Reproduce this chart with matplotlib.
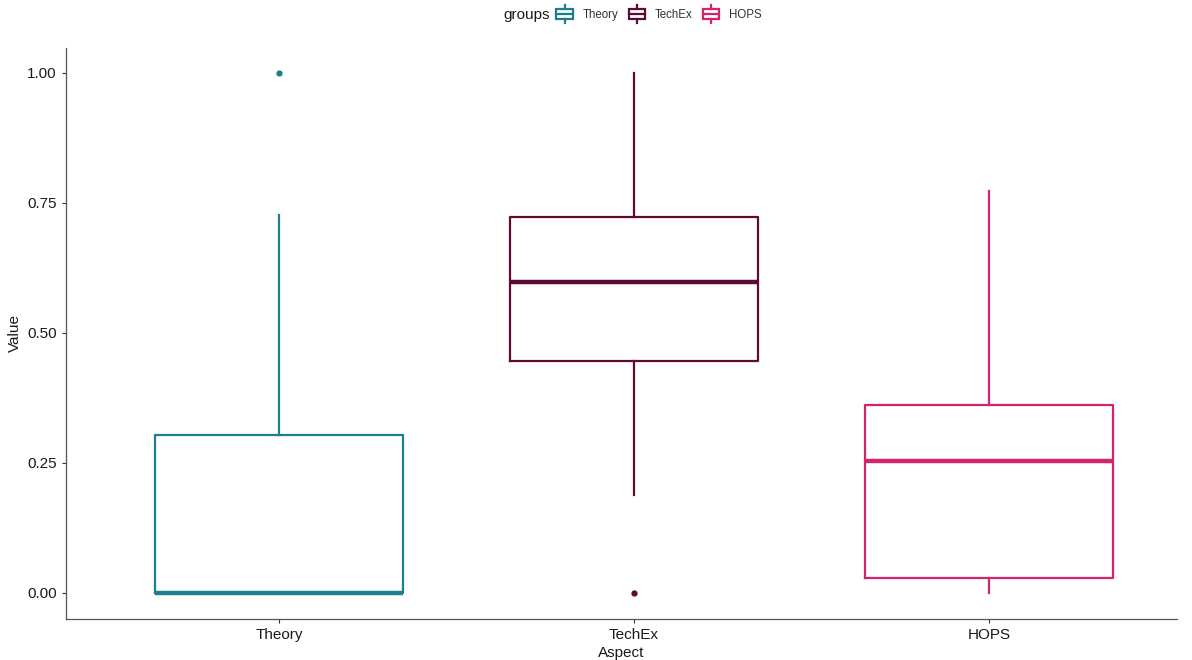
import matplotlib
matplotlib.use('Agg')
import matplotlib.pyplot as plt
from matplotlib.legend_handler import HandlerBase
from matplotlib.patches import Rectangle
from matplotlib.lines import Line2D

plt.rcParams['font.family'] = ['Liberation Sans', 'DejaVu Sans']

groups = ['Theory', 'TechEx', 'HOPS']
colors = ['#1b7f8e', '#5e0a35', '#d3246e']

# five-number summaries
whislo = [0.0, 0.188, 0.0]
q1 = [0.0, 0.446, 0.029]
med = [0.0, 0.598, 0.254]
q3 = [0.304, 0.723, 0.362]
whishi = [0.727, 1.0, 0.773]
fliers = [[1.0], [0.0], []]

stats = []
for i, g in enumerate(groups):
    stats.append({'label': g, 'whislo': whislo[i], 'q1': q1[i], 'med': med[i],
                  'q3': q3[i], 'whishi': whishi[i], 'fliers': fliers[i]})

fig = plt.figure(figsize=(11.92, 6.6), dpi=100)
ax = fig.add_axes([66/1192, 1 - 619/660, (1177 - 66)/1192, (619 - 48)/660])

for i, s in enumerate(stats):
    c = colors[i]
    ax.bxp([s], positions=[i + 1], widths=0.7, showcaps=False,
           boxprops=dict(color=c, linewidth=1.6),
           whiskerprops=dict(color=c, linewidth=1.6),
           medianprops=dict(color=c, linewidth=3.2, solid_capstyle='butt'),
           flierprops=dict(marker='o', markerfacecolor=c, markeredgecolor=c, markersize=3.5))

ax.set_xlim(0.4, 3.53)
ax.set_ylim(-0.05, 1.048)
ax.set_yticks([0, 0.25, 0.5, 0.75, 1.0])
ax.set_yticklabels(['0.00', '0.25', '0.50', '0.75', '1.00'])
ax.set_xticks([1, 2, 3])
ax.set_xticklabels(groups)
ax.tick_params(labelsize=11, colors='#333333', length=3, width=0.8, labelcolor='#1a1a1a')
ax.spines['top'].set_visible(False)
ax.spines['right'].set_visible(False)
for sp in ['left', 'bottom']:
    ax.spines[sp].set_color('#555555')
    ax.spines[sp].set_linewidth(0.9)
ax.set_xlabel('Aspect', fontsize=11, color='#1a1a1a', labelpad=3)
ax.set_ylabel('Value', fontsize=11, color='#1a1a1a', labelpad=4)


class BoxHandler(HandlerBase):
    def create_artists(self, legend, orig_handle, xdescent, ydescent, width, height, fontsize, trans):
        c = orig_handle.get_color()
        cx = width / 2 - xdescent
        bw = width * 0.85
        bh = height * 1.3
        y0 = -ydescent + (height - bh) / 2
        r = Rectangle((cx - bw / 2, y0), bw, bh, facecolor='white', edgecolor=c, linewidth=1.6, transform=trans)
        m = Line2D([cx - bw / 2, cx + bw / 2], [y0 + bh / 2, y0 + bh / 2], color=c, linewidth=1.6, transform=trans)
        w1 = Line2D([cx, cx], [y0 + bh, y0 + bh + 2.5], color=c, linewidth=1.6, transform=trans)
        w2 = Line2D([cx, cx], [y0 - 2.5, y0], color=c, linewidth=1.6, transform=trans)
        return [r, m, w1, w2]


handles = [Line2D([], [], color=c) for c in colors]
leg = fig.legend(handles, groups, handler_map={Line2D: BoxHandler()},
                 loc='center left', bbox_to_anchor=(555/1192, 1 - 15/660), ncol=3, frameon=False,
                 fontsize=8.3, handlelength=1.7, handletextpad=0.7, columnspacing=0.75,
                 borderaxespad=0, borderpad=0)
for t in leg.get_texts():
    t.set_color('#333333')
fig.text(503/1192, 1 - 15/660, 'groups', fontsize=11, color='#1a1a1a', va='center', ha='left')

fig.savefig('out.png', dpi=100)
